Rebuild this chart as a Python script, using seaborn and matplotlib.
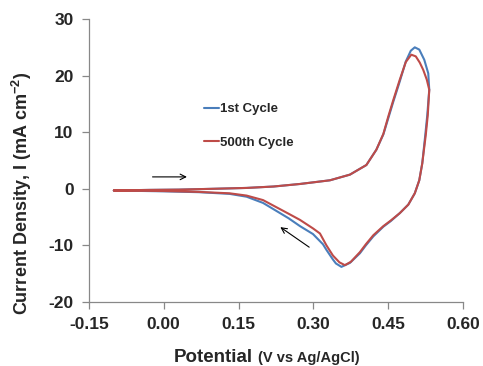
import matplotlib
matplotlib.use("Agg")
import matplotlib.pyplot as plt
import seaborn as sns
import pandas as pd

# ---- data ----
x_cycle1 = [-0.10, -0.03, 0.03, 0.10, 0.166, 0.22, 0.273, 0.333, 0.373, 0.406, 0.426, 0.440, 0.450, 0.460,
            0.473, 0.485, 0.495, 0.503, 0.512, 0.522, 0.530, 0.532,
            0.528, 0.524, 0.518, 0.512, 0.503, 0.490, 0.473, 0.455, 0.440, 0.420, 0.405, 0.393, 0.373,
            0.356, 0.345, 0.339, 0.326, 0.319, 0.299, 0.273, 0.250, 0.233, 0.199, 0.166, 0.132, 0.07,
            0.00, -0.10]
y_cycle1 = [-0.3, -0.2, -0.15, 0.0, 0.15, 0.4, 0.85, 1.5, 2.5, 4.2, 6.9, 9.6, 12.5, 15.4,
            19.0, 22.5, 24.4, 25.0, 24.6, 22.8, 20.4, 17.5,
            13.0, 9.5, 4.5, 1.5, -0.8, -2.8, -4.3, -5.7, -6.7, -8.4, -10.0, -11.4, -13.1,
            -13.8, -13.2, -12.5, -10.8, -9.8, -8.0, -6.6, -5.2, -4.3, -2.5, -1.4, -0.9, -0.6,
            -0.45, -0.3]
x_cycle500 = [-0.10, -0.03, 0.03, 0.10, 0.166, 0.22, 0.273, 0.333, 0.373, 0.406, 0.426, 0.440, 0.450, 0.460,
              0.473, 0.485, 0.496, 0.505, 0.513, 0.520, 0.527, 0.532,
              0.529, 0.525, 0.518, 0.512, 0.503, 0.490, 0.473, 0.455, 0.440, 0.420, 0.405, 0.393, 0.375,
              0.363, 0.352, 0.339, 0.326, 0.313, 0.299, 0.273, 0.250, 0.233, 0.199, 0.166, 0.132, 0.07,
              0.00, -0.10]
y_cycle500 = [-0.3, -0.2, -0.15, 0.0, 0.15, 0.4, 0.85, 1.5, 2.5, 4.2, 6.9, 9.7, 12.8, 15.7,
              19.3, 22.4, 23.7, 23.4, 22.3, 21.0, 19.3, 17.5,
              13.0, 9.5, 4.5, 1.5, -0.8, -2.8, -4.3, -5.6, -6.6, -8.2, -9.8, -11.2, -12.9,
              -13.5, -13.0, -11.8, -10.0, -7.9, -7.0, -5.5, -4.4, -3.6, -2.0, -1.2, -0.8, -0.55,
              -0.4, -0.3]
series_names = ["1st Cycle", "500th Cycle"]
colors = ["#4a7ebb", "#be4b48"]
x_ticks = [-0.15, 0.00, 0.15, 0.30, 0.45, 0.60]
y_ticks = [-20, -10, 0, 10, 20, 30]

df = pd.concat([
    pd.DataFrame({"E": x_cycle1, "I": y_cycle1, "cycle": series_names[0]}),
    pd.DataFrame({"E": x_cycle500, "I": y_cycle500, "cycle": series_names[1]}),
], ignore_index=True)

sns.set_style("ticks")
plt.rcParams["font.family"] = ["Liberation Sans", "DejaVu Sans"]
plt.rcParams["font.weight"] = "bold"
plt.rcParams["mathtext.fontset"] = "custom"
plt.rcParams["mathtext.rm"] = "Liberation Sans:bold"
plt.rcParams["mathtext.bf"] = "Liberation Sans:bold"
plt.rcParams["mathtext.default"] = "bf"

fig = plt.figure(figsize=(4.83, 3.66), dpi=100)
ax = fig.add_axes([0.184, 0.175, 0.775, 0.773])

sns.lineplot(data=df, x="E", y="I", hue="cycle", palette=colors, sort=False,
             estimator=None, ax=ax, linewidth=1.5, legend=True)
for ln in ax.lines:
    ln.set_solid_joinstyle("round")

ax.set_xlim(-0.15, 0.60)
ax.set_ylim(-20, 30)
ax.set_xticks(x_ticks)
ax.set_xticklabels([f"{t:.2f}" for t in x_ticks])
ax.set_yticks(y_ticks)
ax.set_yticklabels([str(t) for t in y_ticks])
ax.tick_params(axis="both", labelsize=12.5, length=5, width=0.9, color="#888888", pad=6)
for lab in ax.get_xticklabels() + ax.get_yticklabels():
    lab.set_fontweight("bold")
for s in ["top", "right"]:
    ax.spines[s].set_visible(False)
for s in ["left", "bottom"]:
    ax.spines[s].set_color("#888888")
    ax.spines[s].set_linewidth(0.9)

ax.set_xlabel("")
ax.set_ylabel(r"Current Density, I (mA cm$^{-2}$)", fontsize=13, fontweight="bold")
ax.yaxis.set_label_coords(-0.147, 0.385)

fig.text(253 / 483, 0.012, "Potential", fontsize=13.5, fontweight="bold", ha="right", va="baseline")
fig.text(258 / 483, 0.012, "(V vs Ag/AgCl)", fontsize=10.5, fontweight="bold", ha="left", va="baseline")

leg = ax.legend(loc="upper left", bbox_to_anchor=(0.277, 0.745), frameon=False,
                handlelength=1.1, handletextpad=0.1, labelspacing=1.6,
                prop={"size": 9.5, "weight": "bold"})

ax.annotate("", xy=(0.052, 2.1), xytext=(-0.028, 2.1),
            arrowprops=dict(arrowstyle="->", color="black", lw=0.8))
ax.annotate("", xy=(0.229, -6.5), xytext=(0.296, -10.6),
            arrowprops=dict(arrowstyle="->", color="black", lw=0.8))

fig.savefig("out.png", dpi=100)
